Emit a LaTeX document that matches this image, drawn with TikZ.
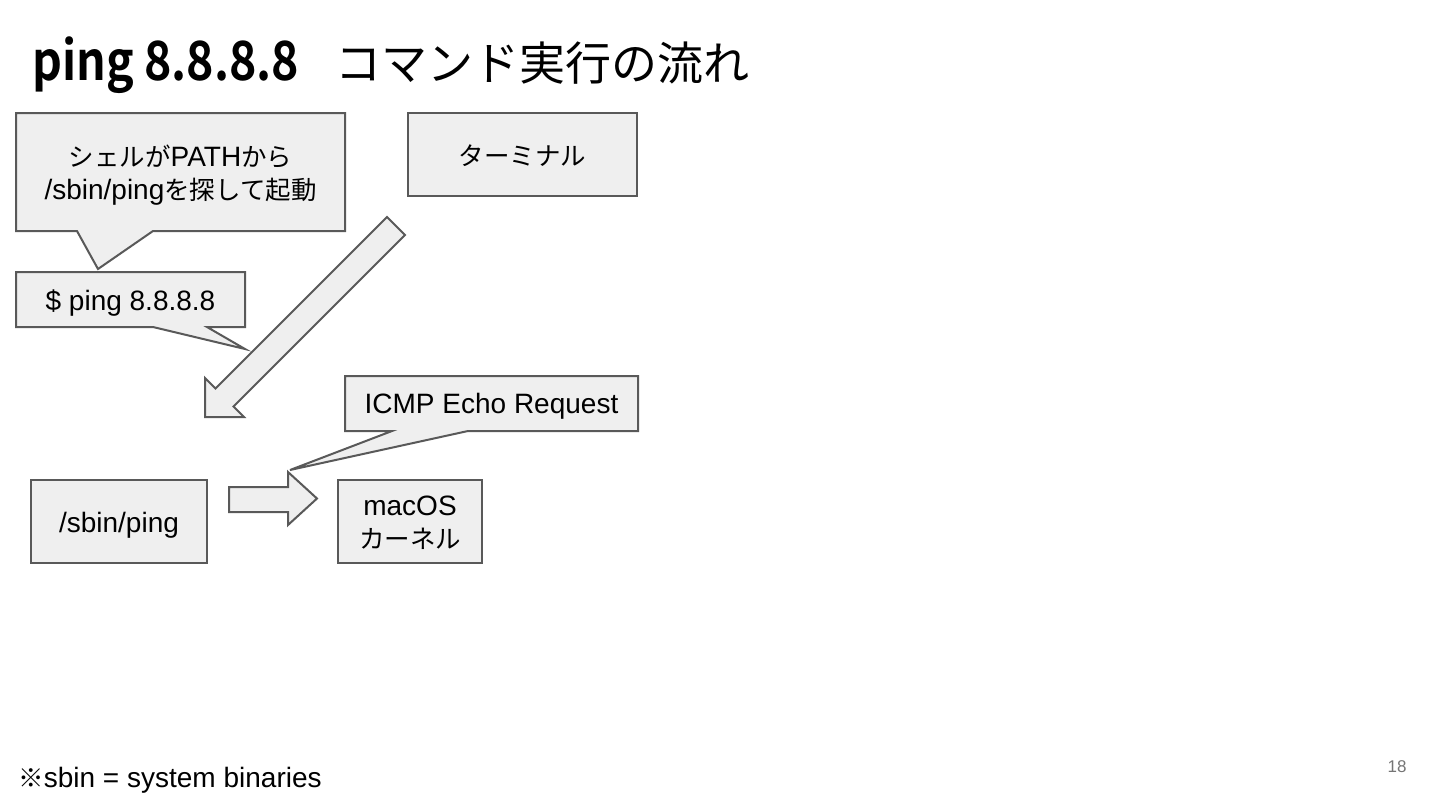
\documentclass[tikz,border=0pt]{standalone}
\usepackage{fontspec}
\setmainfont{Liberation Sans}
\newfontfamily\jp[Scale=0.91]{Noto Sans CJK JP}
\newfontfamily\jptitle{Noto Sans CJK JP}
\newfontfamily\jpbold[FakeStretch=0.86]{Noto Sans CJK JP Bold}
\newcommand\J[1]{{\jp #1}}
\definecolor{boxfill}{RGB}{239,239,239}
\definecolor{boxline}{RGB}{89,89,89}
\definecolor{pagenum}{RGB}{117,117,117}
\tikzset{
  shapebox/.style={draw=boxline, fill=boxfill, line width=1pt, line join=miter},
  rectbox/.style={shapebox, inner sep=0pt},
  txt/.style={font=\fontsize{14}{16.5}\selectfont, align=center, text=black, inner sep=0pt},
}
\begin{document}
\begin{tikzpicture}[x=0.5pt,y=-0.5pt]
\useasboundingbox (0,0) rectangle (1440,810);
\fill[white] (0,0) rectangle (1440,810);

% title
\node[anchor=base west, inner sep=0pt, font=\fontsize{27}{30}\jpbold] (title) at (32,80) {ping 8.8.8.8};
\node[anchor=base west, inner sep=0pt, font=\fontsize{23}{26}\jptitle] (titlejp) at (335,80) {コマンド実行の流れ};

% callout: shell
\draw[shapebox] (16,113) -- (345,113) -- (345,231) -- (153,231) -- (98,269) -- (77,231) -- (16,231) -- cycle;
\node[txt] (shell) at (180.5,175) {\J{シェルが}PATH\J{から}\\/sbin/ping\J{を探して起動}};

% callout: $ ping
\draw[shapebox] (16,272) -- (245,272) -- (245,327) -- (207,327) -- (245,349) -- (153,327) -- (16,327) -- cycle;
\node[txt] (cmd) at (130.5,303) {\$ ping 8.8.8.8};

% terminal
\node[rectbox, minimum width=114.5pt, minimum height=41.5pt] (term) at (522.5,154.5) {};
\node[txt] (termtxt) at (522.5,156) {\J{ターミナル}};

% big diagonal arrow
\draw[shapebox] (387,217) -- (215.5,388.5) -- (205,378) -- (205,417) -- (244,417) -- (233.5,406.5) -- (405,235) -- cycle;

% callout: ICMP
\draw[shapebox] (345,376) -- (638,376) -- (638,431) -- (468,431) -- (290,470) -- (392,431) -- (345,431) -- cycle;
\node[txt] (icmp) at (491.5,406.5) {ICMP Echo Request};

% /sbin/ping box
\node[rectbox, minimum width=88pt, minimum height=41.5pt] (ping) at (119,521.5) {};
\node[txt] (pingtxt) at (119,525) {/sbin/ping};

% right arrow
\draw[shapebox] (229,487) -- (288,487) -- (288,472) -- (317,498.5) -- (288,525) -- (288,512) -- (229,512) -- cycle;

% macOS kernel box
\node[rectbox, minimum width=72pt, minimum height=41.5pt] (kernel) at (410,521.5) {};
\node[txt] (kerneltxt) at (410,522.5) {macOS\\\J{カーネル}};

% footnote
\node[anchor=base west, inner sep=0pt, font=\fontsize{14}{16}\selectfont] (note) at (18,787) {\J{※}sbin = system binaries};

% page number
\node[anchor=base, inner sep=0pt, font=\fontsize{8.5}{10}\selectfont, text=pagenum] (page) at (1397,772) {18};
\end{tikzpicture}
\end{document}
